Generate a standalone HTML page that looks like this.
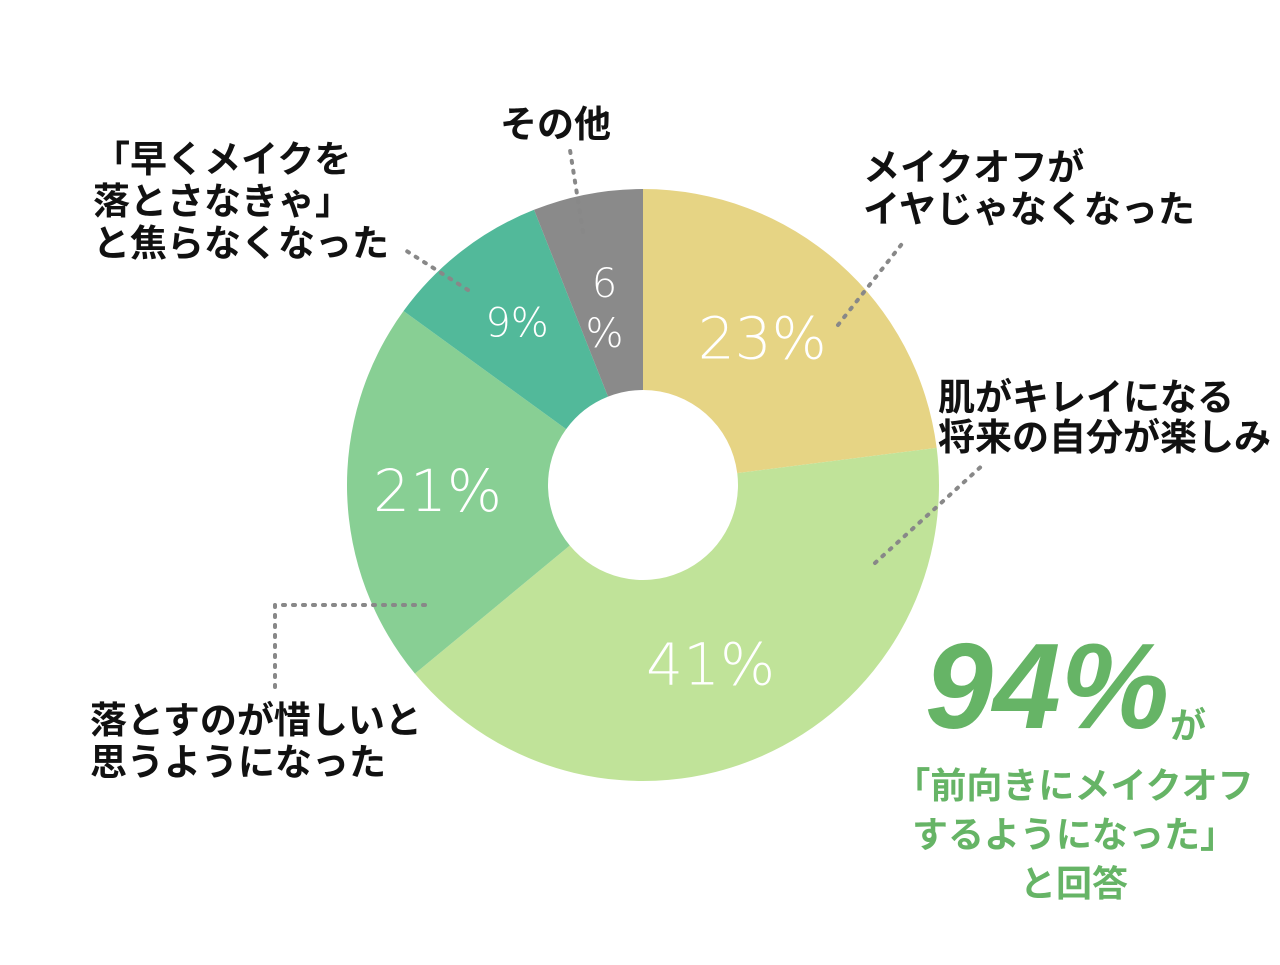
<!DOCTYPE html>
<html><head><meta charset="utf-8"><style>
body{margin:0;background:#fff;}
svg text{font-family:"Liberation Sans","Noto Sans CJK JP",sans-serif;}
.lb{font-size:37px;font-weight:bold;fill:#111;}
.pc{fill:#fff;font-weight:300;font-family:"DejaVu Sans","Liberation Sans",sans-serif;}
.gr{fill:#66b466;font-weight:bold;}
</style></head><body>
<svg width="1280" height="960">
<g id="slices"></g>
<g id="labels"></g>
<g stroke="#888" stroke-width="4" stroke-dasharray="2 8" stroke-linecap="round" fill="none">
<path d="M838 325 L905 240"/>
<path d="M875 563 L985 463"/>
<path d="M425 605 L275 605 L275 690"/>
<path d="M468 290 L405 250"/>
<path d="M583 232 L570 150"/>
</g>
<text class="lb" x="500" y="137">その他</text>
<text class="lb"><tspan x="93" y="172">「早くメイクを</tspan><tspan x="93" y="214">落とさなきゃ」</tspan><tspan x="93" y="256">と焦らなくなった</tspan></text>
<text class="lb"><tspan x="863" y="180">メイクオフが</tspan><tspan x="863" y="222">イヤじゃなくなった</tspan></text>
<text class="lb"><tspan x="938" y="410">肌がキレイになる</tspan><tspan x="938" y="450">将来の自分が楽しみ</tspan></text>
<text class="lb"><tspan x="90" y="733">落とすのが惜しいと</tspan><tspan x="90" y="775">思うようになった</tspan></text>
<text class="gr" x="925" y="728" font-size="122" font-style="italic">94%</text>
<text class="gr" x="1170" y="738" font-size="36">が</text>
<text class="gr" font-size="36" text-anchor="middle"><tspan x="1074" y="798">「前向きにメイクオフ</tspan><tspan x="1074" y="847">するようになった」</tspan><tspan x="1074" y="896">と回答</tspan></text>
</svg>
<script>
const categories=["メイクオフがイヤじゃなくなった","肌がキレイになる将来の自分が楽しみ","落とすのが惜しいと思うようになった","焦らなくなった","その他"];
const values=[23,41,21,9,6];
const valueLabels=["23%","41%","21%","9%","6"];
const colors=["#e6d484","#c0e399","#88cf94","#52b99a","#8a8a8a"];
const cx=643,cy=485,R=296,r=95;
const ns="http://www.w3.org/2000/svg";
const total=values.reduce((a,b)=>a+b,0);
const pt=(a,rad)=>[cx+rad*Math.sin(a),cy-rad*Math.cos(a)];
let acc=0;
const g=document.getElementById('slices'),gl=document.getElementById('labels');
values.forEach((v,i)=>{
 const a0=acc/total*2*Math.PI;acc+=v;const a1=acc/total*2*Math.PI;
 const big=(a1-a0)>Math.PI?1:0;
 const [x0,y0]=pt(a0,R),[x1,y1]=pt(a1,R),[x2,y2]=pt(a1,r),[x3,y3]=pt(a0,r);
 const p=document.createElementNS(ns,'path');
 p.setAttribute('d',`M${x0} ${y0}A${R} ${R} 0 ${big} 1 ${x1} ${y1}L${x2} ${y2}A${r} ${r} 0 ${big} 0 ${x3} ${y3}Z`);
 p.setAttribute('fill',colors[i]);
 
 
 g.appendChild(p);
 const am=(a0+a1)/2;const [lx,ly]=pt(am,(R+r)/2+ (v<10?10:0));
 const t=document.createElementNS(ns,'text');
 t.setAttribute('class','pc');t.setAttribute('text-anchor','middle');
 t.setAttribute('x',lx-(v<10?0:10));t.setAttribute('y',ly+(v<10?14:20));
 t.setAttribute('font-size',v<10?40:58);
 t.textContent=valueLabels[i];
 
 
 gl.appendChild(t);
 if(v<7){const t2=document.createElementNS(ns,'text');
  t2.setAttribute('class','pc');t2.setAttribute('text-anchor','middle');
  t2.setAttribute('x',lx);t2.setAttribute('y',ly+64);t2.setAttribute('font-size',40);
  t2.textContent='%';
  
  
  gl.appendChild(t2);}
});
</script>
</body></html>
